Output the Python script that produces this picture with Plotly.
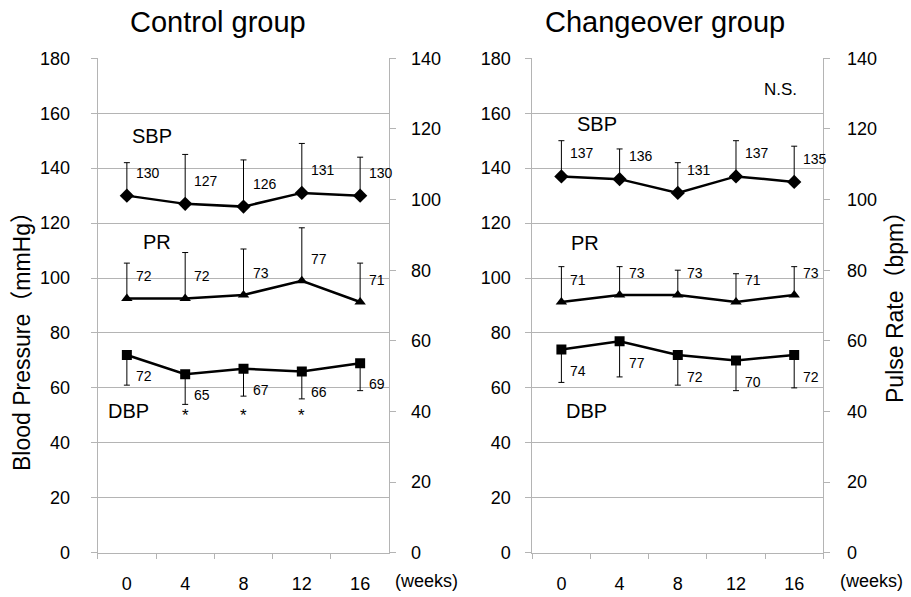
import plotly.graph_objects as go

weeks = ["0", "4", "8", "12", "16"]

# Control group
ctrl_sbp = [130, 127, 126, 131, 130]
ctrl_sbp_sd = [12, 18, 17, 18, 14]
ctrl_pr = [72, 72, 73, 77, 71]
ctrl_pr_sd = [10, 13, 13, 15, 11]
ctrl_dbp = [72, 65, 67, 66, 69]
ctrl_dbp_sd = [11, 11, 10, 10, 10]
ctrl_sig = ["", "*", "*", "*", ""]

# Changeover group
chg_sbp = [137, 136, 131, 137, 135]
chg_sbp_sd = [13, 11, 11, 13, 13]
chg_pr = [71, 73, 73, 71, 73]
chg_pr_sd = [10, 8, 7, 8, 8]
chg_dbp = [74, 77, 72, 70, 72]
chg_dbp_sd = [12, 13, 11, 11, 12]

FONT = "Liberation Sans, Arial, Noto Sans CJK JP, sans-serif"
GRID = "#b4b4b4"
W, H = 911, 597

def px(x):
    return x / W

def py(y):
    return 1 - y / H

fig = go.Figure()

def add_series(x_ax, y_ax, vals, sd, symbol, up):
    zeros = [0] * len(sd)
    fig.add_trace(go.Scatter(
        x=weeks, y=vals, xaxis=x_ax, yaxis=y_ax, mode="lines+markers",
        line=dict(color="black", width=2.5),
        marker=dict(symbol=symbol, size=10 if symbol != "diamond" else 11, color="black"),
        error_y=dict(type="data", symmetric=False,
                     array=sd if up else zeros,
                     arrayminus=zeros if up else sd,
                     color="black", thickness=1, width=3),
        showlegend=False, hoverinfo="skip"))

def add_labels(x_ax, y_ax, vals, yshift):
    for i, v in enumerate(vals):
        fig.add_annotation(x=i, y=v, xref=x_ax, yref=y_ax, text=str(v),
                           showarrow=False, xanchor="left", yanchor="middle",
                           xshift=7, yshift=yshift,
                           font=dict(family=FONT, size=14, color="black"))

# panel 1
add_series("x", "y", ctrl_sbp, ctrl_sbp_sd, "diamond", True)
add_series("x", "y2", ctrl_pr, ctrl_pr_sd, "triangle-up", True)
add_series("x", "y", ctrl_dbp, ctrl_dbp_sd, "square", False)
add_labels("x", "y", ctrl_sbp, 23)
add_labels("x", "y2", ctrl_pr, 22)
add_labels("x", "y", ctrl_dbp, -21)
for i, s in enumerate(ctrl_sig):
    if s:
        fig.add_annotation(x=i, y=50, xref="x", yref="y", text=s, showarrow=False,
                           xanchor="center", yanchor="middle",
                           font=dict(family=FONT, size=17, color="black"))

# panel 2
add_series("x2", "y3", chg_sbp, chg_sbp_sd, "diamond", True)
add_series("x2", "y4", chg_pr, chg_pr_sd, "triangle-up", True)
add_series("x2", "y3", chg_dbp, chg_dbp_sd, "square", False)
add_labels("x2", "y3", chg_sbp, 23)
add_labels("x2", "y4", chg_pr, 22)
add_labels("x2", "y3", chg_dbp, -22)

ydom = [py(552.7), py(58.3)]

def xaxis(dom, anchor):
    return dict(domain=dom, anchor=anchor, type="category", categoryorder="array",
                categoryarray=weeks, range=[-0.5, 4.5], autorange=False,
                showgrid=False, showline=True, linecolor=GRID, linewidth=1,
                ticks="outside", tickson="boundaries", ticklen=5, tickcolor=GRID,
                tickangle=0, tickfont=dict(family=FONT, size=18, color="black"),
                zeroline=False, ticklabelstandoff=15)

def yleft(anchor, standoff):
    return dict(domain=ydom, anchor=anchor, range=[0, 180], dtick=20, tick0=0,
                showgrid=True, gridcolor=GRID, gridwidth=1, showline=True, linecolor=GRID,
                ticks="outside", ticklen=6, tickcolor=GRID, zeroline=False,
                tickfont=dict(family=FONT, size=18, color="black"),
                ticklabelstandoff=standoff)

def yright(anchor, overlay, standoff):
    return dict(domain=ydom, anchor=anchor, overlaying=overlay, side="right",
                range=[0, 140], dtick=20, tick0=0, showgrid=False, showline=True,
                linecolor=GRID, ticks="outside", ticklen=6, tickcolor=GRID, zeroline=False,
                tickfont=dict(family=FONT, size=18, color="black"),
                ticklabelstandoff=standoff)

fig.update_layout(
    width=W, height=H, margin=dict(l=0, r=0, t=0, b=0, autoexpand=False),
    paper_bgcolor="white", plot_bgcolor="white", showlegend=False,
    xaxis=xaxis([px(97.7), px(389.3)], "y"),
    xaxis2=xaxis([px(532.3), px(823.3)], "y3"),
    yaxis=yleft("x", 17),
    yaxis2=yright("x", "y", 11),
    yaxis3=yleft("x2", 11),
    yaxis4=yright("x2", "y3", 13),
)

def txt(x, y, s, size, xanchor="center", angle=0):
    fig.add_annotation(x=px(x), y=py(y), xref="paper", yref="paper", text=s,
                       showarrow=False, xanchor=xanchor, yanchor="middle", textangle=angle,
                       font=dict(family=FONT, size=size, color="black"))

txt(218, 22, "Control group", 29)
txt(665, 22, "Changeover group", 29)
txt(151.7, 136, "SBP", 20)
txt(156.7, 241.7, "PR", 20)
txt(128.3, 410.7, "DBP", 20)
txt(596.7, 124, "SBP", 20)
txt(585, 242.7, "PR", 20)
txt(586.7, 411, "DBP", 20)
txt(780, 90, "N.S.", 17)
txt(393, 581, "(weeks)", 18, xanchor="left")
txt(838, 581, "(weeks)", 18, xanchor="left")
txt(22, 336, "Blood Pressure（mmHg）", 23, angle=-90)
txt(895, 302, "Pulse Rate（bpm）", 23, angle=-90)

fig.write_html("out.html", config={"displayModeBar": False},
               post_script="document.body.style.margin='0';")
